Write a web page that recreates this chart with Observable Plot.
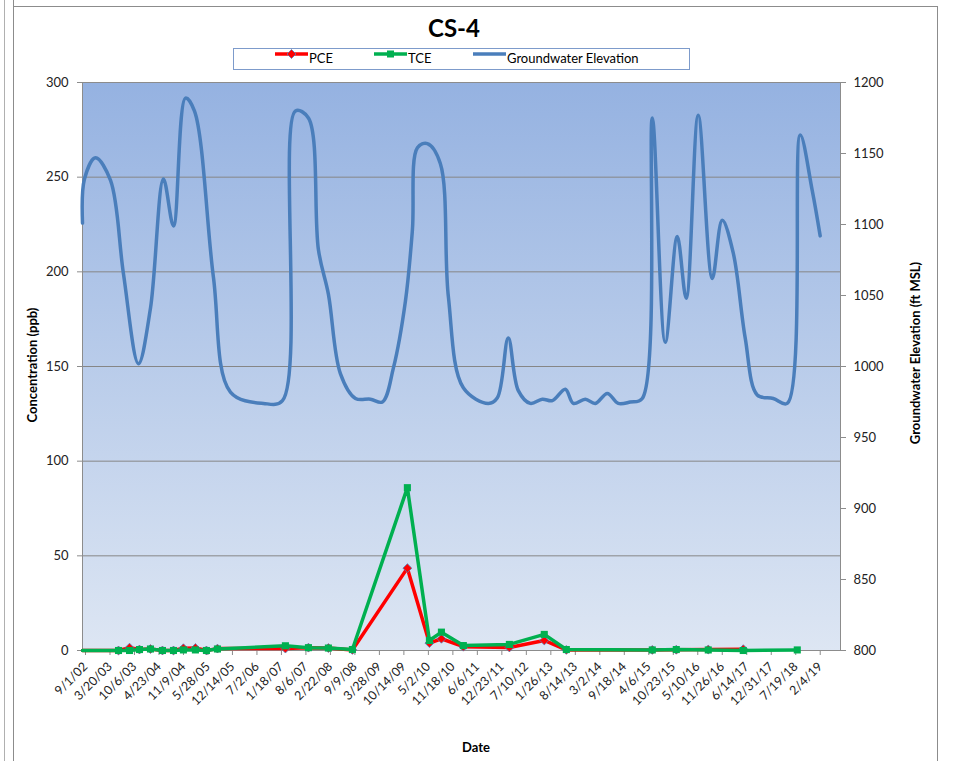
<!DOCTYPE html>
<html><head><meta charset="utf-8">
<script src="https://cdn.jsdelivr.net/npm/d3@7"></script>
<script src="https://cdn.jsdelivr.net/npm/@observablehq/plot@0.6"></script>
<style>
body{margin:0;background:#fff;font-family:Lato,"Liberation Sans",sans-serif;}
#wrap{position:relative;width:956px;height:761px;overflow:hidden;}
#wrap svg{position:absolute;left:0;top:0;background:transparent;}
.ln{position:absolute;z-index:2;}
#title{position:absolute;left:0;width:908px;top:13px;text-align:center;font-weight:bold;font-size:24px;color:#000;z-index:3;}
#legend{position:absolute;left:233px;top:48px;width:455px;height:20px;border:1px solid #7d9bcb;background:#fff;z-index:3;font-size:13px;}
.li{position:absolute;top:0;height:20px;line-height:19px;white-space:nowrap;color:#000;}
.li svg{position:absolute;top:5px;}
.lab{position:absolute;font-weight:bold;font-size:13px;color:#000;white-space:nowrap;transform:translate(-50%,-50%);z-index:3;}
.rot{transform:translate(-50%,-50%) rotate(-90deg);}
</style></head>
<body>
<div id="wrap">
  <div class="ln" style="left:4px;top:0;width:1px;height:761px;background:#b0b0b0"></div>
  <div class="ln" style="left:13px;top:0;width:1px;height:761px;background:#8c8c8c"></div>
  <div class="ln" style="left:13px;top:6px;width:925px;height:1px;background:#8c8c8c"></div>
  <div class="ln" style="left:937px;top:6px;width:1px;height:755px;background:#8c8c8c"></div>
  <div id="title">CS-4</div>
  <div id="legend">
    <div class="li" style="left:41px"><svg width="33" height="10"><line x1="0" y1="5" x2="33" y2="5" stroke="#ff0000" stroke-width="3.5"/><path d="M16.5,0.5 L21,5 L16.5,9.5 L12,5Z" fill="#ff0000" stroke="#4f81bd" stroke-width="0.8"/></svg><span style="position:absolute;left:34px">PCE</span></div>
    <div class="li" style="left:140px"><svg width="33" height="10"><line x1="0" y1="5" x2="33" y2="5" stroke="#00b050" stroke-width="3.5"/><rect x="13" y="1.5" width="7" height="7" fill="#00b050"/></svg><span style="position:absolute;left:34px">TCE</span></div>
    <div class="li" style="left:239px"><svg width="33" height="10"><line x1="0" y1="5" x2="33" y2="5" stroke="#4a7ebb" stroke-width="3.5"/></svg><span style="position:absolute;left:34px">Groundwater Elevation</span></div>
  </div>
  <div class="lab rot" style="left:32px;top:365px">Concentration (ppb)</div>
  <div class="lab rot" style="left:915px;top:353px">Groundwater Elevation (ft MSL)</div>
  <div class="lab" style="left:476px;top:747px">Date</div>
</div>
<script>
// ---- data ----
const gwDates = ["2002-09-01","2002-09-17","2002-12-16","2003-04-18","2003-08-02","2003-12-02","2004-03-09","2004-06-23","2004-09-13","2004-12-20","2005-03-03","2005-08-05","2005-12-22","2006-09-18","2007-02-20","2007-06-06","2007-09-20","2007-12-11","2008-03-01","2008-06-07","2008-10-08","2009-02-07","2009-05-16","2009-08-14","2009-11-20","2010-01-16","2010-02-26","2010-05-18","2010-09-01","2010-11-06","2011-03-08","2011-09-28","2011-12-11","2012-03-09","2012-05-30","2012-09-05","2012-12-12","2013-03-04","2013-06-18","2013-08-22","2013-11-28","2014-02-18","2014-05-27","2014-08-24","2014-11-30","2015-03-08","2015-05-29","2015-09-12","2015-12-19","2016-03-01","2016-06-07","2016-09-30","2016-12-20","2017-03-20","2017-06-26","2017-10-02","2018-02-10","2018-06-04","2018-09-18","2018-12-25","2019-02-28"];
const gwElev = [1101,1132,1147,1131,1065,1002,1041,1132,1099,1189,1180,1063,982,974,976,1180,1175,1082,1051,995,977.5,977,975,999,1046,1096,1154,1157,1143,1049,985,974,978,1020,983,974,977,976,984,974,977,974,981,974,975,977.5,1175,1017,1091.5,1048,1177,1062,1103,1080,1020,980,977.5,974,1163,1124,1092];

const sampleDates = ["2002-09-01","2003-06-22","2003-09-20","2003-12-10","2004-03-09","2004-06-15","2004-09-13","2004-12-03","2005-03-11","2005-06-09","2005-09-07","2007-03-16","2007-09-20","2008-03-01","2008-09-13","2009-12-06","2010-06-04","2010-09-10","2011-03-08","2012-03-18","2012-12-28","2013-06-26","2015-05-29","2015-12-11","2016-08-28","2017-06-10","2018-08-25"];
const pceValues = [0,0,1.5,0.5,0.8,0,0,1.2,1.3,0,1,1,1.5,1.3,0.3,43.5,3.9,6.2,2,1.6,5.3,0.3,0.3,0.4,0.5,0.7,null];
const tceValues = [0,0,0,0.5,0.8,0,0,0.3,0.3,0,0.8,2.5,1.5,1.3,0.5,86,5.3,9.7,2.6,3.2,8.5,0.5,0.3,0.5,0.3,0,0.3];

const xTickLabels = ["9/1/02","3/20/03","10/6/03","4/23/04","11/9/04","5/28/05","12/14/05","7/2/06","1/18/07","8/6/07","2/22/08","9/9/08","3/28/09","10/14/09","5/2/10","11/18/10","6/6/11","12/23/11","7/10/12","1/26/13","8/14/13","3/2/14","9/18/14","4/6/15","10/23/15","5/10/16","11/26/16","6/14/17","12/31/17","7/19/18","2/4/19"];
const concTicks = [0,50,100,150,200,250,300];
const elevTicks = [800,850,900,950,1000,1050,1100,1150,1200];
const xDomain = ["2002-09-01","2019-08-13"];

// ---- build ----
const parseTick = d3.utcParse("%m/%d/%y");
const fmtTick = d3.utcFormat("%-m/%-d/%y");
const toConc = e => (e - 800) * 0.75;   // right axis 800..1200 -> left 0..300

const gw = gwDates.map((d,i) => ({date: new Date(d), v: toConc(gwElev[i])}));
const pce = sampleDates.map((d,i) => ({date: new Date(d), v: pceValues[i]})).filter(d => d.v != null);
const tce = sampleDates.map((d,i) => ({date: new Date(d), v: tceValues[i]})).filter(d => d.v != null);
const xTicks = xTickLabels.map(parseTick);

const defs = () => {
  const s = d3.create("svg:defs");
  const g = s.append("linearGradient").attr("id","bgGrad").attr("x1",0).attr("y1",0).attr("x2",0).attr("y2",1);
  g.append("stop").attr("offset","0%").attr("stop-color","#95b2e1");
  g.append("stop").attr("offset","100%").attr("stop-color","#dde6f3");
  return s.node();
};

const chart = Plot.plot({
  width: 956, height: 761,
  marginLeft: 82, marginRight: 116, marginTop: 82, marginBottom: 111,
  style: {fontFamily: "Lato, 'Liberation Sans', sans-serif", fontSize: "13px", background: "transparent", color: "#222"},
  x: {type: "utc", domain: xDomain.map(d => new Date(d))},
  y: {domain: [0, 300]},
  marks: [
    defs,
    Plot.frame({fill: "url(#bgGrad)"}),
    Plot.gridY(concTicks.filter(t => t > 0 && t < 300), {stroke: "#868686", strokeOpacity: 1, strokeWidth: 1}),
    Plot.frame({stroke: "#8c8c8c", strokeWidth: 1}),
    Plot.axisY(concTicks, {anchor: "left", tickSize: 5, tickPadding: 9, stroke: "#8c8c8c", fill: "#222", fontSize: 13, label: null}),
    Plot.axisY(elevTicks.map(toConc), {anchor: "right", tickSize: 5, tickPadding: 8, stroke: "#8c8c8c", fill: "#222", fontSize: 13, label: null, tickFormat: v => String(Math.round(v / 0.75 + 800))}),
    Plot.axisX(xTicks, {anchor: "bottom", tickSize: 5, tickPadding: 9, dx: 3, tickRotate: -45, stroke: "#8c8c8c", fill: "#222", fontSize: 12.5, label: null, tickFormat: fmtTick}),
    Plot.line(gw, {x: "date", y: "v", curve: "catmull-rom", stroke: "#4a7ebb", strokeWidth: 3.5}),
    Plot.line(pce, {x: "date", y: "v", stroke: "#ff0000", strokeWidth: 3.5}),
    Plot.dot(pce.slice(1), {x: "date", y: "v", symbol: "diamond2", r: 4, fill: "#ff0000", stroke: "#4f81bd", strokeWidth: 0.8}),
    Plot.line(tce, {x: "date", y: "v", stroke: "#00b050", strokeWidth: 3.5}),
    Plot.dot(tce.slice(1), {x: "date", y: "v", symbol: "square", r: 4, fill: "#00b050", stroke: "none"})
  ]
});
document.getElementById("wrap").prepend(chart);
</script>
</body></html>
